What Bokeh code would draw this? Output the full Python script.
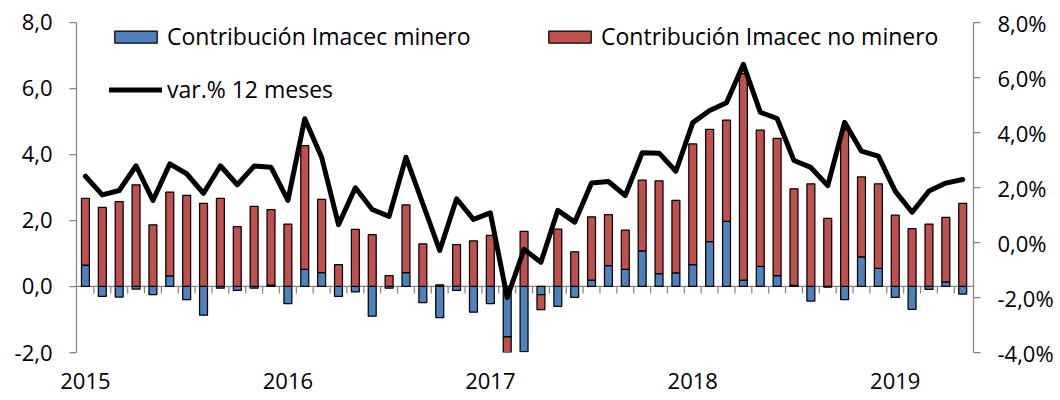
import numpy as np
from bokeh.plotting import figure
from bokeh.models import (Range1d, LinearAxis, FixedTicker, Legend, LegendItem, Span)
from bokeh.embed import file_html
from bokeh.resources import INLINE

# ---- data -------------------------------------------------------------
months = [f"{y}-{m:02d}" for y in range(2015, 2020) for m in range(1, 13)][:53]

minero = [0.65, -0.30, -0.32, -0.08, -0.25, 0.32, -0.40, -0.87, -0.05, -0.12,
          -0.05, 0.04, -0.52, 0.52, 0.42, -0.30, -0.16, -0.90, -0.05, 0.42,
          -0.49, -0.94, -0.12, -0.78, -0.52, -1.53, -1.97, -0.25, -0.60, -0.33,
          0.19, 0.63, 0.52, 1.08, 0.39, 0.41, 0.66, 1.36, 1.97, 0.19,
          0.61, 0.33, 0.03, -0.44, -0.02, -0.40, 0.90, 0.55, -0.33, -0.69,
          -0.09, 0.14, -0.23]

no_minero = [2.02, 2.40, 2.57, 3.08, 1.87, 2.54, 2.76, 2.52, 2.67, 1.81,
             2.43, 2.29, 1.89, 3.75, 2.22, 0.66, 1.73, 1.57, 0.33, 2.05,
             1.29, 0.05, 1.27, 1.38, 1.55, -0.53, 1.67, -0.45, 1.74, 1.05,
             1.92, 1.55, 1.19, 2.14, 2.81, 2.20, 3.66, 3.40, 3.07, 6.26,
             4.13, 4.16, 2.93, 3.11, 2.06, 4.75, 2.42, 2.56, 2.16, 1.75,
             1.89, 1.95, 2.52]

var12 = [2.41, 1.73, 1.89, 2.79, 1.53, 2.86, 2.50, 1.79, 2.79, 2.10,
         2.78, 2.74, 1.53, 4.50, 3.10, 0.65, 1.99, 1.20, 0.95, 3.10,
         1.41, -0.29, 1.59, 0.84, 1.08, -2.00, -0.25, -0.72, 1.17, 0.74,
         2.16, 2.22, 1.71, 3.26, 3.25, 2.59, 4.36, 4.80, 5.08, 6.48,
         4.74, 4.51, 2.98, 2.73, 2.07, 4.37, 3.32, 3.14, 1.87, 1.10,
         1.87, 2.16, 2.29]

left_ticks = [-2, 0, 2, 4, 6, 8]
left_labels = ["-2,0", "0,0", "2,0", "4,0", "6,0", "8,0"]
right_ticks = [-4, -2, 0, 2, 4, 6, 8]
right_labels = ["-4,0%", "-2,0%", "0,0%", "2,0%", "4,0%", "6,0%", "8,0%"]

label_min = "Contribución Imacec minero"
label_nomin = "Contribución Imacec no minero"
label_var = "var.% 12 meses"

# ---- derived stacking (positives up, negatives down) ------------------
x = np.arange(len(months))
m = np.array(minero)
n = np.array(no_minero)
b_bot = np.minimum(m, 0)
b_top = np.maximum(m, 0)
base = np.where(n >= 0, np.maximum(m, 0), np.minimum(m, 0))
r_end = base + n
r_bot = np.minimum(base, r_end)
r_top = np.maximum(base, r_end)

year_ticks = [i for i, mo in enumerate(months) if mo.endswith("-01")]
year_labels = [months[i][:4] for i in year_ticks]
month_bounds = [i + 0.5 for i in range(len(months) - 1)]

FONT = "Open Sans"
FS = "22px"
LFS = "23px"
GRAY = "#868686"
BLUE = "#4F81BD"
RED = "#C0504D"

p = figure(width=1060, height=400,
           min_border_left=76, min_border_right=87, min_border_top=12, min_border_bottom=48,
           x_range=Range1d(-0.53, 52.64), y_range=Range1d(-2, 8.3),
           x_axis_location=None, y_axis_location=None,
           toolbar_location=None, output_backend="svg")
p.extra_y_ranges = {"pct": Range1d(-4, 8.364)}
p.xgrid.visible = False
p.ygrid.visible = False
p.outline_line_color = None
p.background_fill_color = "white"
p.border_fill_color = "white"


def style_axis(ax):
    ax.axis_line_color = GRAY
    ax.axis_line_width = 1.25
    ax.major_tick_line_color = GRAY
    ax.major_tick_line_width = 1.25
    ax.major_tick_in = 0
    ax.major_tick_out = 7
    ax.minor_tick_line_color = None
    ax.major_label_text_font = FONT
    ax.major_label_text_font_size = FS
    ax.major_label_text_color = "black"


yl = LinearAxis(ticker=FixedTicker(ticks=left_ticks), bounds=(-2, 8),
                major_label_overrides=dict(zip(left_ticks, left_labels)))
style_axis(yl)
yl.major_label_standoff = 17
p.add_layout(yl, "left")

yr = LinearAxis(y_range_name="pct", ticker=FixedTicker(ticks=right_ticks), bounds=(-4, 8),
                major_label_overrides=dict(zip(right_ticks, right_labels)))
style_axis(yr)
yr.major_label_standoff = 17
p.add_layout(yr, "right")

xb = LinearAxis(ticker=FixedTicker(ticks=year_ticks),
                major_label_overrides=dict(zip(year_ticks, year_labels)))
style_axis(xb)
xb.axis_line_color = None
xb.major_tick_line_color = None
xb.major_tick_out = 0
xb.major_label_standoff = 20
p.add_layout(xb, "below")

# zero line and month tick marks
p.add_layout(Span(location=0, dimension="width", line_color=GRAY, line_width=1.25,
                  level="underlay"))
p.segment(x0=month_bounds, x1=month_bounds, y0=0, y1=-0.21,
          line_color=GRAY, line_width=1.25)

rb = p.vbar(x=x, width=0.47, bottom=b_bot, top=b_top, fill_color=BLUE,
            line_color="black", line_width=1.25)
rr = p.vbar(x=x, width=0.47, bottom=r_bot, top=r_top, fill_color=RED,
            line_color="black", line_width=1.25)
rl = p.line(x=x, y=var12, y_range_name="pct", line_color="black", line_width=5,
            line_join="round", line_cap="round")


def make_legend(item_label, rend, loc):
    lg = Legend(items=[LegendItem(label=item_label, renderers=[rend])], location=loc,
                orientation="horizontal", glyph_width=53, glyph_height=15,
                label_standoff=5, padding=0, margin=0, spacing=0,
                border_line_alpha=0, background_fill_alpha=0,
                label_text_font=FONT, label_text_font_size=LFS, label_text_color="black",
                label_height=30)
    p.add_layout(lg)


make_legend(label_min, rb, (33, 300))
make_legend(label_nomin, rr, (467, 300))
make_legend(label_var, rl, (33, 247))

open("out.html", "w").write(file_html(p, INLINE))
